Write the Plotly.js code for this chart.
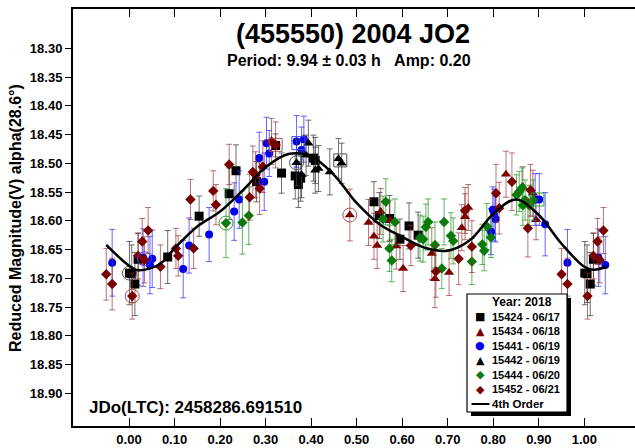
<!DOCTYPE html>
<html><head><meta charset="utf-8">
<script src="https://cdn.plot.ly/plotly-3.0.1.min.js"></script>
<style>html,body{margin:0;padding:0;overflow:hidden;background:#fff}</style>
</head><body><div id="chart" style="width:636px;height:448px"></div>
<script>
// ---------------- data ----------------
const seriesNames = ['15424 - 06/17','15434 - 06/18','15441 - 06/19','15442 - 06/19','15444 - 06/20','15452 - 06/21'];

const ph15424  = [0.001,0.006,0.013,0.020,0.085,0.154,0.220,0.235,0.280,0.322,0.335,0.365,0.372,0.377,0.405,0.409,0.538,0.550,0.572,0.595,0.615,0.635,1.001,1.006,1.013,1.020];
const mag15424 = [18.691,18.692,18.710,18.667,18.663,18.592,18.553,18.513,18.532,18.469,18.517,18.522,18.537,18.526,18.491,18.495,18.567,18.591,18.596,18.632,18.609,18.625,18.691,18.692,18.710,18.667];
const err15424 = [0.055,0.05,0.055,0.045,0.046,0.035,0.045,0.045,0.035,0.02,0.035,0.04,0.04,0.04,0.04,0.04,0.035,0.04,0.04,0.035,0.04,0.04,0.055,0.05,0.055,0.045];

const ph15434  = [0.485,0.526,0.538,0.545,0.553,0.573,0.587,0.602,0.665,0.672,0.703,0.731,0.738,0.745,0.828,0.865,0.887,0.894];
const mag15434 = [18.590,18.603,18.627,18.643,18.584,18.599,18.644,18.683,18.657,18.701,18.690,18.612,18.593,18.577,18.519,18.541,18.552,18.598];
const err15434 = [0.045,0.04,0.04,0.04,0.04,0.035,0.04,0.04,0.045,0.05,0.04,0.04,0.04,0.04,0.04,0.035,0.04,0.035];

const ph15441  = [-0.037,0.031,0.046,0.051,0.119,0.132,0.176,0.231,0.242,0.286,0.297,0.302,0.308,0.368,0.379,0.384,0.795,0.799,0.802,0.805,0.892,0.901,0.914,0.963,1.031,1.046];
const mag15441 = [18.673,18.664,18.677,18.666,18.684,18.643,18.624,18.584,18.563,18.491,18.532,18.465,18.483,18.462,18.477,18.458,18.619,18.581,18.590,18.597,18.563,18.563,18.606,18.673,18.664,18.677];
const err15441 = [0.058,0.05,0.05,0.05,0.05,0.048,0.047,0.05,0.05,0.045,0.05,0.045,0.04,0.045,0.04,0.04,0.04,0.04,0.045,0.04,0.045,0.045,0.055,0.058,0.05,0.05];

const ph15442  = [0.368,0.379,0.389,0.394,0.409,0.416,0.441,0.460,0.467];
const mag15442 = [18.499,18.520,18.486,18.465,18.512,18.509,18.515,18.492,18.500];
const err15442 = [0.04,0.04,0.035,0.04,0.04,0.04,0.04,0.035,0.035];

const ph15444  = [0.213,0.249,0.263,0.558,0.564,0.572,0.577,0.584,0.639,0.646,0.652,0.657,0.672,0.687,0.692,0.707,0.712,0.753,0.776,0.780,0.786,0.795,0.851,0.857,0.863,0.865,0.870,0.879,0.888];
const mag15444 = [18.604,18.603,18.591,18.597,18.567,18.648,18.669,18.602,18.630,18.632,18.611,18.602,18.642,18.683,18.602,18.626,18.635,18.671,18.641,18.652,18.610,18.629,18.555,18.549,18.543,18.573,18.564,18.573,18.564];
const err15444 = [0.06,0.055,0.05,0.04,0.04,0.04,0.037,0.04,0.04,0.04,0.04,0.04,0.04,0.035,0.04,0.04,0.04,0.04,0.035,0.035,0.04,0.035,0.035,0.035,0.035,0.035,0.035,0.035,0.035];

const ph15452  = [-0.050,-0.037,0.007,0.020,0.029,0.034,0.042,0.069,0.103,0.108,0.135,0.142,0.185,0.191,0.220,0.265,0.272,0.278,0.287,0.294,0.313,0.322,0.619,0.674,0.724,0.738,0.753,0.806,0.813,0.841,0.876,0.882,0.950,0.963,1.007,1.020,1.029,1.034,1.042];
const mag15452 = [18.693,18.710,18.731,18.661,18.636,18.668,18.617,18.680,18.648,18.661,18.563,18.648,18.548,18.572,18.502,18.559,18.515,18.520,18.544,18.506,18.462,18.468,18.643,18.688,18.666,18.582,18.645,18.552,18.578,18.532,18.613,18.547,18.693,18.710,18.731,18.661,18.636,18.668,18.617];
const err15452 = [0.045,0.045,0.04,0.04,0.04,0.04,0.04,0.038,0.035,0.035,0.035,0.035,0.035,0.035,0.035,0.04,0.045,0.04,0.045,0.045,0.04,0.04,0.035,0.045,0.045,0.04,0.045,0.05,0.045,0.05,0.05,0.045,0.045,0.045,0.04,0.04,0.04,0.04,0.04];

// 4th order Fourier fit
const fitPhase = [-0.05,0.00,0.02,0.05,0.07,0.10,0.15,0.20,0.25,0.30,0.35,0.40,0.45,0.50,0.55,0.60,0.65,0.70,0.75,0.80,0.85,0.90,0.95,1.00,1.02,1.05];
const fitMag   = [18.642,18.678,18.686,18.682,18.674,18.648,18.610,18.584,18.547,18.507,18.484,18.488,18.520,18.569,18.606,18.628,18.647,18.652,18.633,18.588,18.563,18.590,18.640,18.680,18.685,18.680];

// session-start rings
const ringCirclePh  = [0.001,0.007,0.034,0.213,0.368,0.485];
const ringCircleMag = [18.691,18.731,18.666,18.604,18.499,18.590];
const ringCircleSer = [0,5,2,4,3,1];
const ringSquarePh  = [0.322,0.372,0.464,0.897];
const ringSquareMag = [18.468,18.465,18.495,18.563];
const ringSquareSer = [5,2,3,4];

const xTickVals = [0,0.1,0.2,0.3,0.4,0.5,0.6,0.7,0.8,0.9,1.0];
const xTickText = ['0.00','0.10','0.20','0.30','0.40','0.50','0.60','0.70','0.80','0.90','1.00'];
const yTickVals = [18.30,18.35,18.40,18.45,18.50,18.55,18.60,18.65,18.70,18.75,18.80,18.85,18.90];
const yTickText = ['18.30','18.35','18.40','18.45','18.50','18.55','18.60','18.65','18.70','18.75','18.80','18.85','18.90'];

const titleText = '(455550) 2004 JO2';
const subText = 'Period: 9.94 ± 0.03 h&nbsp;&nbsp;&nbsp;Amp: 0.20';
const jdText = 'JDo(LTC): 2458286.691510';
const yTitle = 'Reduced Magnitude(V) alpha(28.6°)';
const legendHead = 'Year: 2018';
const fitName = '4th Order';

// ---------------- styles ----------------
const FONT = 'Liberation Sans, Arial, sans-serif';
const mcol = ['#000000','#7a0000','#0000ee','#000000','#0a7a0a','#7a0000'];
const ecol = ['rgba(60,60,60,0.75)','rgba(150,40,40,0.65)','rgba(40,40,255,0.7)','rgba(60,60,60,0.75)','rgba(30,150,30,0.7)','rgba(150,40,40,0.65)'];
const rcol = ['#555555','#b05050','#4040ff','#555555','#30a030','#b05050'];
const sym  = ['square','triangle-up','circle','triangle-up','diamond','diamond'];
const msize= [9,9,8,9,8,8];
const glyph= ['■','▲','●','▲','◆','◆'];

const sets = [
  [ph15424,mag15424,err15424],[ph15434,mag15434,err15434],[ph15441,mag15441,err15441],
  [ph15442,mag15442,err15442],[ph15444,mag15444,err15444],[ph15452,mag15452,err15452]
];

const traces = sets.map((s,i)=>({
  type:'scatter', mode:'markers', x:s[0], y:s[1], name:seriesNames[i], showlegend:false,
  marker:{symbol:sym[i], size:msize[i], color:mcol[i], line:{width:0}},
  error_y:{type:'data', array:s[2], visible:true, color:ecol[i], thickness:1, width:3}
}));
traces.push({type:'scatter', mode:'markers', x:ringCirclePh, y:ringCircleMag, showlegend:false,
  marker:{symbol:'circle-open', size:14, color:ringCircleSer.map(k=>rcol[k]), line:{width:1}}});
traces.push({type:'scatter', mode:'markers', x:ringSquarePh, y:ringSquareMag, showlegend:false,
  marker:{symbol:'square-open', size:13, color:ringSquareSer.map(k=>rcol[k]), line:{width:1}}});
traces.push({type:'scatter', mode:'lines', x:fitPhase, y:fitMag, name:fitName, showlegend:false,
  line:{color:'#000', width:2.5, shape:'spline', smoothing:1}});

// pixel -> paper helpers (plot area x:73..636, y:9..426)
const fx = p => (p-73)/563;
const fy = p => (426-p)/417;

const ann = [];
ann.push({text:subText, x:fx(349), y:fy(60.5), xref:'paper', yref:'paper', xanchor:'center', yanchor:'middle', showarrow:false, font:{family:FONT,size:16,weight:'bold',color:'#000'}});
ann.push({text:jdText, x:fx(87), y:fy(407), xref:'paper', yref:'paper', xanchor:'left', yanchor:'middle', showarrow:false, font:{family:FONT,size:17,weight:'bold',color:'#000'}});
ann.push({text:yTitle, x:fx(15), y:fy(218), xref:'paper', yref:'paper', xanchor:'center', yanchor:'middle', textangle:-90, showarrow:false, font:{family:FONT,size:16,weight:'bold',color:'#000'}});
ann.push({text:legendHead, x:fx(521.7), y:fy(302.3), xref:'paper', yref:'paper', xanchor:'center', yanchor:'middle', showarrow:false, font:{family:FONT,size:12,weight:'bold',color:'#000'}});
seriesNames.forEach((n,i)=>{
  const yy = fy(316.7 + i*14.5);
  ann.push({text:glyph[i], x:fx(480), y:yy, xref:'paper', yref:'paper', xanchor:'center', yanchor:'middle', showarrow:false, font:{family:'DejaVu Sans',size:11,color:mcol[i]}});
  ann.push({text:n, x:fx(490), y:yy, xref:'paper', yref:'paper', xanchor:'left', yanchor:'middle', showarrow:false, font:{family:FONT,size:11,weight:'bold',color:'#000'}});
});
ann.push({text:fitName, x:fx(489.5), y:fy(404), xref:'paper', yref:'paper', xanchor:'left', yanchor:'middle', showarrow:false, font:{family:FONT,size:11.5,weight:'bold',color:'#000'}});

const shapes = [
  {type:'rect', xref:'paper', yref:'paper', x0:fx(471), x1:fx(571), y0:fy(416), y1:fy(298), fillcolor:'#000', line:{width:0}, layer:'above'},
  {type:'rect', xref:'paper', yref:'paper', x0:fx(467), x1:fx(567), y0:fy(412), y1:fy(294), fillcolor:'#fff', line:{color:'#000', width:1.2}, layer:'above'},
  {type:'line', xref:'paper', yref:'paper', x0:fx(471.5), x1:fx(489.5), y0:fy(404), y1:fy(404), line:{color:'#000', width:2}, layer:'above'}
];

const yRange = [18.9569, 18.2317];
const layout = {
  width:636, height:448,
  margin:{l:73, r:0, t:9, b:22, pad:0},
  paper_bgcolor:'#fff', plot_bgcolor:'#fff',
  showlegend:false,
  title:{text:titleText, x:353/636, xref:'container', xanchor:'center', y:1-34/448, yref:'container', yanchor:'middle',
         font:{family:FONT, size:27, weight:'bold', color:'#000'}},
  xaxis:{range:[-0.123,1.1135], tickvals:xTickVals, ticktext:xTickText, ticks:'inside', ticklen:8, tickwidth:1, tickcolor:'#000',
         mirror:'ticks', showline:true, linewidth:2, linecolor:'#000', showgrid:false, zeroline:false, automargin:false,
         tickfont:{family:FONT, size:13, weight:'bold', color:'#000'}},
  yaxis:{range:yRange, tickvals:yTickVals, ticktext:yTickText, ticks:'outside', ticklen:6, tickwidth:1, tickcolor:'#000',
         mirror:true, showline:true, linewidth:2, linecolor:'#000', showgrid:false, zeroline:false, automargin:false,
         tickfont:{family:FONT, size:13, weight:'bold', color:'#000'}},
  yaxis2:{overlaying:'y', side:'left', range:yRange, tickvals:yTickVals, ticks:'inside', ticklen:8, tickwidth:1, tickcolor:'#000',
         mirror:'ticks', showline:false, showticklabels:false, showgrid:false, zeroline:false, automargin:false},
  annotations:ann,
  shapes:shapes
};

Plotly.newPlot('chart', traces, layout, {staticPlot:true, displayModeBar:false});
</script></body></html>
